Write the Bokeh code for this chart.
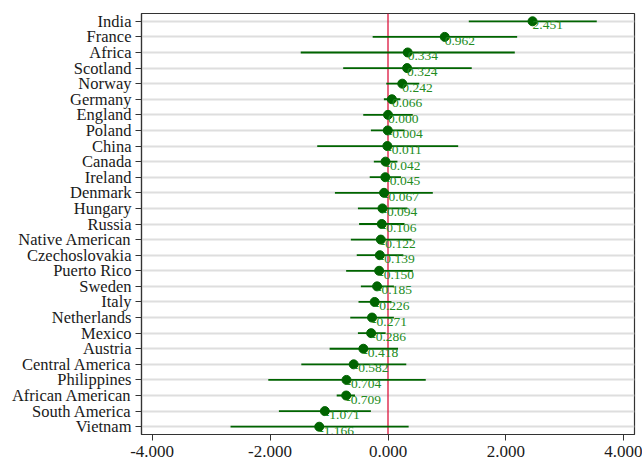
from bokeh.plotting import figure
from bokeh.models import FactorRange, FixedTicker, Span, ColumnDataSource, NumeralTickFormatter
from bokeh.embed import file_html
from bokeh.resources import INLINE
from bokeh.core.properties import value

groups = ["India", "France", "Africa", "Scotland", "Norway", "Germany", "England", "Poland",
          "China", "Canada", "Ireland", "Denmark", "Hungary", "Russia", "Native American",
          "Czechoslovakia", "Puerto Rico", "Sweden", "Italy", "Netherlands", "Mexico",
          "Austria", "Central America", "Philippines", "African American", "South America",
          "Vietnam"]
estimates = [2.451, 0.962, 0.334, 0.324, 0.242, 0.066, 0.000, -0.004, -0.011, -0.042, -0.045,
             -0.067, -0.094, -0.106, -0.122, -0.139, -0.150, -0.185, -0.226, -0.271, -0.286,
             -0.418, -0.582, -0.704, -0.709, -1.071, -1.166]
lower = [1.37, -0.26, -1.48, -0.76, -0.03, -0.07, -0.42, -0.29, -1.20, -0.24, -0.31, -0.90,
         -0.51, -0.49, -0.63, -0.53, -0.71, -0.46, -0.50, -0.64, -0.51, -0.99, -1.47, -2.03,
         -0.87, -1.85, -2.67]
upper = [3.54, 2.19, 2.15, 1.42, 0.53, 0.21, 0.42, 0.28, 1.19, 0.16, 0.22, 0.76, 0.33, 0.28,
         0.40, 0.26, 0.42, 0.10, 0.06, 0.10, -0.04, 0.17, 0.31, 0.64, -0.56, -0.29, 0.35]
x_ticks = [-4, -2, 0, 2, 4]

labels = ["%.3f" % v for v in estimates]
src = ColumnDataSource(dict(g=groups, est=estimates, lo=lower, hi=upper, lab=labels))

p = figure(width=642, height=459, output_backend="svg", toolbar_location=None,
           y_range=FactorRange(factors=list(reversed(groups))), x_range=(-4.18, 4.18),
           min_border_left=141, min_border_right=8, min_border_top=13, min_border_bottom=23)

p.background_fill_color = "white"
p.outline_line_color = "#333333"
p.outline_line_width = 1.2

p.xgrid.visible = False
p.ygrid.grid_line_color = "#dedede"
p.ygrid.grid_line_width = 2

for ax in (p.xaxis[0], p.yaxis[0]):
    ax.axis_line_color = "#333333"
    ax.axis_line_width = 1.2
    ax.major_tick_line_color = "#333333"
    ax.major_tick_out = 6
    ax.major_tick_in = 0
    ax.minor_tick_line_color = None
    ax.major_label_text_font = "Liberation Serif"
    ax.major_label_text_font_size = "17px"
    ax.major_label_text_color = "#1a1a1a"

p.xaxis.ticker = FixedTicker(ticks=x_ticks)
p.xaxis.formatter = NumeralTickFormatter(format="0.000")
p.xaxis.major_label_standoff = 5
p.yaxis.major_label_standoff = 4
p.yaxis.major_label_text_font_size = "16.5px"

p.add_layout(Span(location=0, dimension="height", line_color="#dc143c", line_width=1.3,
                  level="underlay"))

p.segment(x0="lo", x1="hi", y0="g", y1="g", source=src, line_color="#006400", line_width=1.8)
p.scatter(x="est", y="g", source=src, size=9, fill_color="#006400", line_color="#006400")
p.text(x="est", y="g", text="lab", source=src, text_color="#228b22",
       text_font=value("Liberation Serif"), text_font_size="13.5px",
       text_baseline="top", text_align="left", y_offset=0)

open("out.html", "w").write(file_html(p, INLINE))
